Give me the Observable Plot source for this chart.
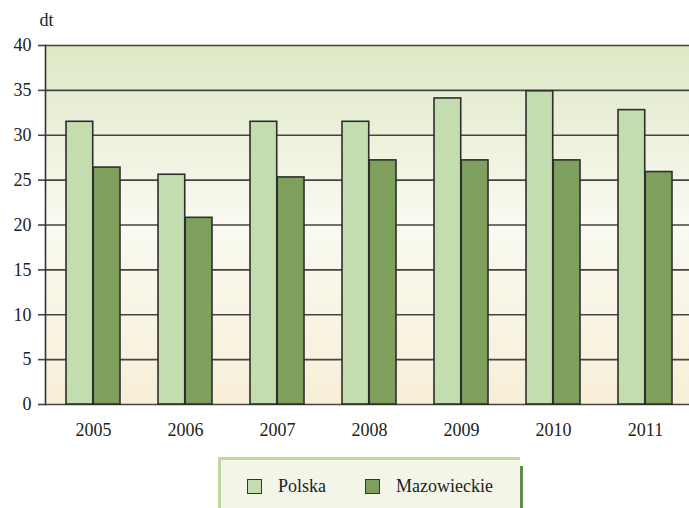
<!DOCTYPE html>
<html>
<head>
<meta charset="utf-8">
<script src="https://cdn.jsdelivr.net/npm/d3@7"></script>
<script src="https://cdn.jsdelivr.net/npm/@observablehq/plot@0.6"></script>
<style>
  body { margin: 0; background: #fff; font-family: "Liberation Serif", "DejaVu Serif", serif; }
  #chart { position: relative; width: 689px; height: 508px; }
  #chart svg text { font-family: "Liberation Serif", "DejaVu Serif", serif; }
  #legend {
    position: absolute; left: 218px; top: 457px; width: 299px; height: 48px;
    background: #f3f5e8;
    border-left: 3px solid #bcd9a2; border-top: 3px solid #bcd9a2;
    font-size: 18px; color: #222;
  }
  #legend .edge { position: absolute; right: -3px; top: 6px; width: 3px; bottom: -2px; background: #5f8d49; }
  #legend .item { position: absolute; top: 16px; display: flex; align-items: center; }
  #legend .sw { width: 13px; height: 13px; border: 1.5px solid #333; margin-right: 16px; }
</style>
</head>
<body>
<div id="chart"></div>
<script>
// Yield per hectare (dt), Poland vs. Mazowieckie voivodeship
const years = ["2005", "2006", "2007", "2008", "2009", "2010", "2011"];
const polska = [31.5, 25.6, 31.5, 31.5, 34.1, 34.9, 32.8];
const mazowieckie = [26.4, 20.8, 25.3, 27.2, 27.2, 27.2, 25.9];
const seriesNames = ["Polska", "Mazowieckie"];
const seriesColors = ["#c3ddae", "#7fa05d"];
const yTicks = [0, 5, 10, 15, 20, 25, 30, 35, 40];

const rowsP = years.map((y, i) => ({year: y, value: polska[i]}));
const rowsM = years.map((y, i) => ({year: y, value: mazowieckie[i]}));

// each year's band holds two bars side by side
const xRange = [46, 692];
const pad = 0.409;
const half = ((xRange[1] - xRange[0]) / years.length) * (1 - pad) / 2;

const plot = Plot.plot({
  width: 689,
  height: 445,
  marginLeft: 45,
  marginRight: 0,
  marginTop: 45,
  marginBottom: 41,
  style: {fontFamily: "'Liberation Serif', 'DejaVu Serif', serif", fontSize: "18px", color: "#222", background: "transparent"},
  x: {domain: years, range: xRange, paddingInner: pad, paddingOuter: pad / 2, align: 0.5, label: null},
  y: {domain: [0, 40], label: null},
  marks: [
    Plot.frame({fill: "url(#bgGrad)", stroke: "none"}),
    Plot.ruleY(yTicks, {stroke: "#444", strokeWidth: 1.6}),
    Plot.barY(rowsP, {x: "year", y: "value", fill: seriesColors[0], stroke: "#2e2e2e", strokeWidth: 1.6, insetRight: half}),
    Plot.barY(rowsM, {x: "year", y: "value", fill: seriesColors[1], stroke: "#2e2e2e", strokeWidth: 1.6, insetLeft: half}),
    Plot.frame({anchor: "left", stroke: "#333", strokeWidth: 1.6}),
    Plot.axisY({ticks: yTicks, tickSize: 7, tickPadding: 7, stroke: "#444", strokeWidth: 1.6, label: null}),
    Plot.axisX({tickSize: 0, tickPadding: 19, label: null}),
    Plot.text(["dt"], {frameAnchor: "top-left", dx: -6, dy: -32, textAnchor: "start", fontSize: 18})
  ]
});

// vertical background gradient for the plotting area
const defs = d3.select(plot).insert("defs", ":first-child");
const grad = defs.append("linearGradient").attr("id", "bgGrad").attr("x1", 0).attr("y1", 0).attr("x2", 0).attr("y2", 1);
grad.append("stop").attr("offset", "0%").attr("stop-color", "#dee8c5");
grad.append("stop").attr("offset", "50%").attr("stop-color", "#fafaf1");
grad.append("stop").attr("offset", "100%").attr("stop-color", "#f7eed7");

const chart = document.getElementById("chart");
chart.appendChild(plot);

// legend below the chart
const legend = document.createElement("div");
legend.id = "legend";
legend.innerHTML = '<div class="edge"></div>';
const lefts = [26, 144];
seriesNames.forEach((name, i) => {
  const item = document.createElement("div");
  item.className = "item";
  item.style.left = lefts[i] + "px";
  item.innerHTML = `<div class="sw" style="background:${seriesColors[i]}"></div><span>${name}</span>`;
  legend.appendChild(item);
});
chart.appendChild(legend);
</script>
</body>
</html>
